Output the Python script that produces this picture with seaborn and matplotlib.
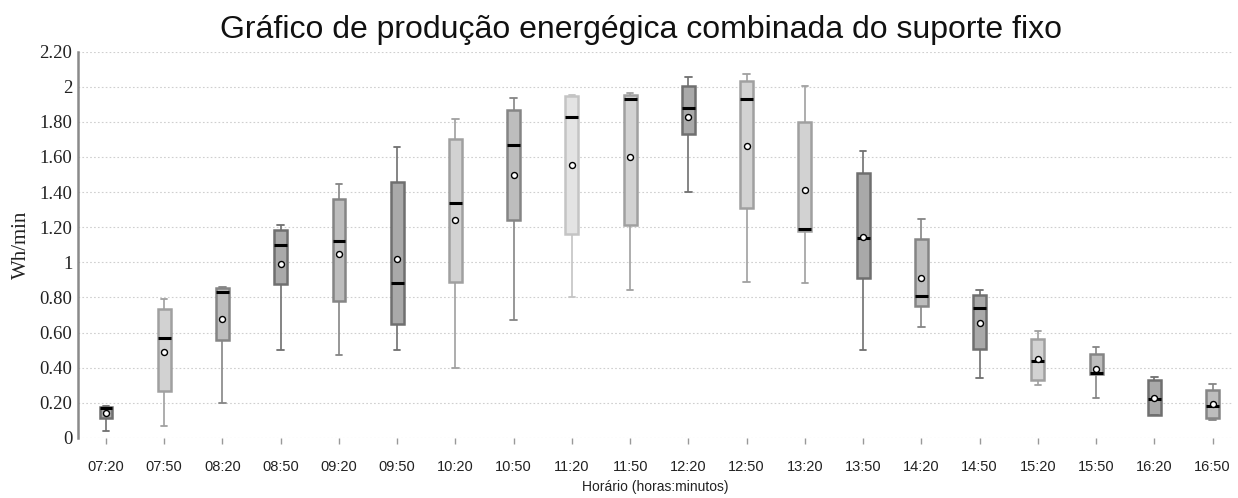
import numpy as np
import pandas as pd
import matplotlib
matplotlib.use("Agg")
import matplotlib.pyplot as plt
import seaborn as sns

# ---- data ----
times = ["07:20", "07:50", "08:20", "08:50", "09:20", "09:50", "10:20", "10:50", "11:20", "11:50",
         "12:20", "12:50", "13:20", "13:50", "14:20", "14:50", "15:20", "15:50", "16:20", "16:50"]
lows    = [0.04, 0.07, 0.20, 0.50, 0.47, 0.50, 0.40, 0.67, 0.80, 0.84,
           1.40, 0.89, 0.88, 0.50, 0.63, 0.34, 0.30, 0.23, 0.13, 0.10]
q1s     = [0.115, 0.27, 0.56, 0.875, 0.78, 0.65, 0.89, 1.24, 1.16, 1.21,
           1.73, 1.31, 1.18, 0.91, 0.75, 0.505, 0.33, 0.363, 0.131, 0.112]
medians = [0.17, 0.57, 0.83, 1.10, 1.12, 0.88, 1.34, 1.67, 1.83, 1.93,
           1.88, 1.93, 1.19, 1.14, 0.81, 0.74, 0.44, 0.37, 0.22, 0.18]
q3s     = [0.175, 0.735, 0.855, 1.185, 1.36, 1.46, 1.70, 1.87, 1.945, 1.955,
           2.005, 2.035, 1.80, 1.51, 1.135, 0.815, 0.565, 0.48, 0.33, 0.275]
highs   = [0.18, 0.79, 0.86, 1.21, 1.445, 1.655, 1.815, 1.935, 1.95, 1.965,
           2.055, 2.075, 2.005, 1.635, 1.245, 0.84, 0.61, 0.52, 0.35, 0.31]
means   = [0.14, 0.49, 0.675, 0.99, 1.045, 1.02, 1.24, 1.50, 1.555, 1.60,
           1.825, 1.665, 1.41, 1.145, 0.91, 0.655, 0.448, 0.395, 0.23, 0.195]
shades  = ["dark", "light", "mid", "dark", "mid", "dark", "light", "mid", "pale", "light",
           "dark", "light", "light", "dark", "mid", "dark", "light", "mid", "dark", "mid"]
yticks = [0, 0.2, 0.4, 0.6, 0.8, 1.0, 1.2, 1.4, 1.6, 1.8, 2.0, 2.2]
ytick_labels = ["0", "0.20", "0.40", "0.60", "0.80", "1", "1.20", "1.40", "1.60", "1.80", "2", "2.20"]

# ---- style ----
fill_map = {"dark": "#a9a9a9", "mid": "#bdbdbd", "light": "#d2d2d2", "pale": "#e3e3e3"}
edge_map = {"dark": "#6f6f6f", "mid": "#858585", "light": "#a0a0a0", "pale": "#c4c4c4"}
serif = ["Liberation Serif", "DejaVu Serif"]

sns.set_theme(style="white")
plt.rcParams["font.family"] = ["Liberation Sans", "DejaVu Sans"]

df = pd.DataFrame({
    "time": np.repeat(times, 5),
    "value": np.column_stack([lows, q1s, medians, q3s, highs]).ravel(),
})

fig = plt.figure(figsize=(12.38, 4.98), dpi=100)
ax = fig.add_axes([0.063, 0.1205, 0.932, 0.776])

for t, sh in zip(times, shades):
    sub = df[df["time"] == t]
    sns.boxplot(data=sub, x="time", y="value", order=times, ax=ax,
                color=fill_map[sh], linecolor=edge_map[sh], saturation=1,
                whis=(0, 100), width=0.22, linewidth=1.8, showfliers=False,
                medianprops=dict(color="black", linewidth=2.2),
                capprops=dict(color=edge_map[sh], linewidth=1.3),
                whiskerprops=dict(color=edge_map[sh], linewidth=1.2))

sns.stripplot(x=times, y=means, order=times, jitter=False, ax=ax,
              color="white", edgecolor="black", linewidth=1.0, size=4.3, zorder=10)

ax.set_xlim(-0.48, 19.33)
ax.set_ylim(0, 2.2)
ax.set_yticks(yticks)
ax.set_yticklabels(ytick_labels, family=serif, fontsize=13.5, color="#222222")
ax.set_xticks(range(len(times)))
ax.set_xticklabels(times, fontsize=10.5, color="#222222")
ax.yaxis.grid(True, linestyle=(0, (1.5, 2)), color="#cfcfcf", linewidth=0.8)
ax.set_axisbelow(True)

for s in ["top", "right", "bottom"]:
    ax.spines[s].set_visible(False)
ax.spines["left"].set_color("#8a8a8a")
ax.spines["left"].set_linewidth(1.8)

ax.tick_params(axis="x", which="both", length=4, width=1, color="#999999", pad=12, bottom=True)
ax.tick_params(axis="y", length=0, pad=4)

ax.set_xlabel("Horário (horas:minutos)", fontsize=10, color="#222222", labelpad=4)
ax.set_ylabel("Wh/min", family=serif, fontsize=15, color="#222222", labelpad=6)
fig.text(0.518, 0.94, "Gráfico de produção energégica combinada do suporte fixo",
         ha="center", va="center", fontsize=23, color="#111111")

fig.savefig("out.png", dpi=100, facecolor="white")
